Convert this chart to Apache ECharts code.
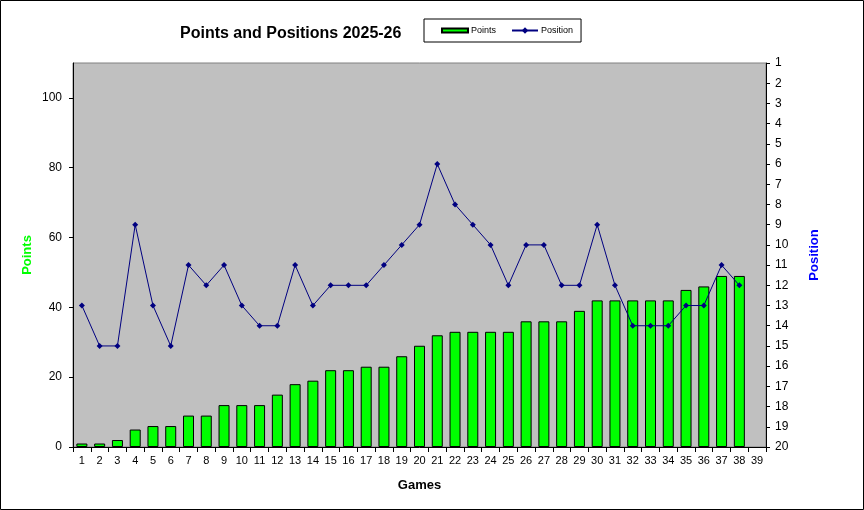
<!DOCTYPE html>
<html>
<head>
<meta charset="utf-8">
<script src="https://cdn.jsdelivr.net/npm/echarts@6/dist/echarts.min.js"></script>
<style>
html,body{margin:0;padding:0;background:#fff;}
#chart{width:864px;height:510px;}
</style>
</head>
<body>
<div id="chart"></div>
<script>
var games = ['1','2','3','4','5','6','7','8','9','10','11','12','13','14','15','16','17','18','19','20',
             '21','22','23','24','25','26','27','28','29','30','31','32','33','34','35','36','37','38','39'];
var points = [1,1,2,5,6,6,9,9,12,12,12,15,18,19,22,22,23,23,26,29,
              32,33,33,33,33,36,36,36,39,42,42,42,42,42,45,46,49,49];
var positions = [13,15,15,9,13,15,11,12,11,13,14,14,11,13,12,12,12,11,10,9,
                 6,8,9,10,12,10,10,12,12,9,12,14,14,14,13,13,11,12];
var pointTicks = [0,20,40,60,80,100];

var FONT = 'Arial, "Liberation Sans", sans-serif';
var chart = echarts.init(document.getElementById('chart'), null, {renderer:'canvas'});
chart.setOption({
  animation:false,
  backgroundColor:'#ffffff',
  textStyle:{fontFamily:FONT},
  title:{
    text:'Points and Positions 2025-26',
    left:180, top:26, padding:0,
    textStyle:{fontFamily:FONT,fontSize:16,fontWeight:'bold',color:'#000'}
  },
  legend:{
    left:424, top:19, width:145,
    padding:[7,8,7,17],
    borderColor:'#000', borderWidth:1,
    itemGap:15, itemWidth:26, itemHeight:8,
    textStyle:{fontFamily:FONT,fontSize:9,color:'#000',padding:[0,0,0,-2]},
    data:[
      {name:'Points', icon:'path://M0,0h26v4h-26z'},
      {name:'Position'}
    ]
  },
  grid:{
    left:73, right:98, top:63, bottom:63,
    show:true, backgroundColor:'#c0c0c0', borderColor:'#808080', borderWidth:1
  },
  xAxis:{
    type:'category', data:games, boundaryGap:true,
    name:'Games', nameLocation:'middle', nameGap:32, nameMoveOverlap:false,
    nameTextStyle:{fontFamily:FONT,fontSize:13,fontWeight:'bold',color:'#000'},
    axisLine:{lineStyle:{color:'#000',width:1}},
    axisTick:{show:true,length:5,alignWithLabel:false,lineStyle:{color:'#000'}},
    axisLabel:{fontFamily:FONT,fontSize:11,color:'#000',margin:8,interval:0},
    splitLine:{show:false}
  },
  yAxis:[
    {
      type:'value', min:0, max:110, interval:20, position:'left',
      name:'Points', nameLocation:'middle', nameGap:39, nameRotate:90, nameMoveOverlap:false,
      nameTextStyle:{fontFamily:FONT,fontSize:13,fontWeight:'bold',color:'#00ff00'},
      axisLine:{show:true,lineStyle:{color:'#000',width:1}},
      axisTick:{show:true,length:4,customValues:pointTicks,lineStyle:{color:'#000'}},
      axisLabel:{fontFamily:FONT,fontSize:12,color:'#000',margin:11,customValues:pointTicks},
      splitLine:{show:false}
    },
    {
      type:'value', min:1, max:20, interval:1, inverse:true, position:'right',
      name:'Position', nameLocation:'middle', nameGap:42, nameRotate:90, nameMoveOverlap:false,
      nameTextStyle:{fontFamily:FONT,fontSize:13,fontWeight:'bold',color:'#0000ff'},
      axisLine:{show:true,lineStyle:{color:'#000',width:1}},
      axisTick:{show:true,length:4,lineStyle:{color:'#000'}},
      axisLabel:{fontFamily:FONT,fontSize:12,color:'#000',margin:9},
      splitLine:{show:false}
    }
  ],
  series:[
    {
      name:'Points', type:'bar', yAxisIndex:0, data:points, barWidth:11,
      itemStyle:{color:'#00ff00',borderColor:'#000',borderWidth:1}
    },
    {
      name:'Position', type:'line', yAxisIndex:1, data:positions,
      symbol:'diamond', symbolSize:6, showSymbol:true,
      lineStyle:{color:'#000080',width:1},
      itemStyle:{color:'#000080'}
    }
  ],
  graphic:[
    {type:'rect', shape:{x:0.5,y:0.5,width:863,height:509}, style:{fill:'none',stroke:'#000',lineWidth:1}, silent:true}
  ]
});
</script>
</body>
</html>
